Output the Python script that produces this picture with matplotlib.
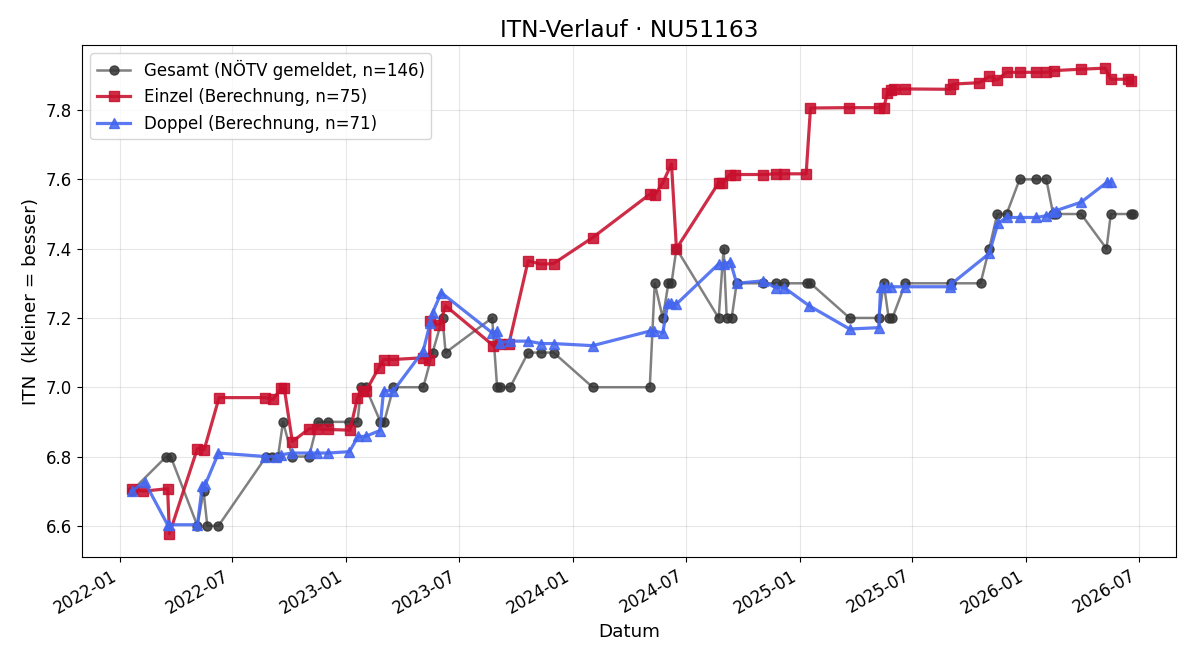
import matplotlib
matplotlib.use("Agg")
import matplotlib.pyplot as plt
import matplotlib.dates as mdates
import pandas as pd

title = "ITN-Verlauf · NU51163"

gesamt_dates = [
    "2022-01-20", "2022-03-17", "2022-03-24", "2022-05-06", "2022-05-16", "2022-05-22",
    "2022-06-09", "2022-08-25", "2022-09-04", "2022-09-13", "2022-09-21", "2022-10-06",
    "2022-11-02", "2022-11-16", "2022-12-03", "2023-01-06", "2023-01-19", "2023-01-25",
    "2023-02-01", "2023-02-25", "2023-03-03", "2023-03-18", "2023-05-05", "2023-05-20",
    "2023-06-05", "2023-06-10", "2023-08-24", "2023-09-01", "2023-09-06", "2023-09-22",
    "2023-10-21", "2023-11-11", "2023-12-01", "2024-02-02", "2024-05-04", "2024-05-12",
    "2024-05-25", "2024-06-03", "2024-06-08", "2024-06-16", "2024-08-23", "2024-08-31",
    "2024-09-05", "2024-09-13", "2024-09-21", "2024-11-02", "2024-11-23", "2024-12-07",
    "2025-01-13", "2025-01-18", "2025-03-22", "2025-05-08", "2025-05-16", "2025-05-24",
    "2025-05-30", "2025-06-20", "2025-09-01", "2025-10-19", "2025-11-02", "2025-11-15",
    "2025-11-30", "2025-12-21", "2026-01-17", "2026-02-02", "2026-02-13", "2026-02-18",
    "2026-03-30", "2026-05-10", "2026-05-17", "2026-06-19", "2026-06-22",
]
gesamt_values = [
    6.7, 6.8, 6.8, 6.6, 6.7, 6.6,
    6.6, 6.8, 6.8, 6.8, 6.9, 6.8,
    6.8, 6.9, 6.9, 6.9, 6.9, 7.0,
    7.0, 6.9, 6.9, 7.0, 7.0, 7.1,
    7.2, 7.1, 7.2, 7.0, 7.0, 7.0,
    7.1, 7.1, 7.1, 7.0, 7.0, 7.3,
    7.2, 7.3, 7.3, 7.4, 7.2, 7.4,
    7.2, 7.2, 7.3, 7.3, 7.3, 7.3,
    7.3, 7.3, 7.2, 7.2, 7.3, 7.2,
    7.2, 7.3, 7.3, 7.3, 7.4, 7.5,
    7.5, 7.6, 7.6, 7.6, 7.5, 7.5,
    7.5, 7.4, 7.5, 7.5, 7.5,
]

einzel_dates = [
    "2022-01-20", "2022-02-08", "2022-03-19", "2022-03-22", "2022-05-06", "2022-05-17",
    "2022-06-10", "2022-08-23", "2022-09-05", "2022-09-18", "2022-09-23", "2022-10-06",
    "2022-11-02", "2022-11-15", "2022-12-03", "2023-01-07", "2023-01-19", "2023-01-28",
    "2023-02-02", "2023-02-22", "2023-03-02", "2023-03-17", "2023-05-05", "2023-05-15",
    "2023-05-16", "2023-05-31", "2023-06-10", "2023-08-26", "2023-09-06", "2023-09-20",
    "2023-10-21", "2023-11-11", "2023-12-01", "2024-02-02", "2024-05-04", "2024-05-12",
    "2024-05-25", "2024-06-08", "2024-06-16", "2024-08-23", "2024-08-29", "2024-09-10",
    "2024-09-18", "2024-11-02", "2024-11-23", "2024-12-07", "2025-01-11", "2025-01-18",
    "2025-03-21", "2025-05-09", "2025-05-16", "2025-05-22", "2025-05-27", "2025-06-01",
    "2025-06-20", "2025-08-31", "2025-09-04", "2025-10-17", "2025-11-02", "2025-11-15",
    "2025-11-30", "2025-12-21", "2026-01-17", "2026-02-02", "2026-02-15", "2026-03-30",
    "2026-05-08", "2026-05-17", "2026-06-14", "2026-06-19",
]
einzel_values = [
    6.705, 6.700, 6.707, 6.577, 6.823, 6.820,
    6.970, 6.970, 6.965, 6.997, 6.997, 6.843,
    6.880, 6.880, 6.878, 6.876, 6.970, 6.990,
    6.990, 7.055, 7.080, 7.080, 7.085, 7.080,
    7.190, 7.180, 7.235, 7.120, 7.125, 7.125,
    7.365, 7.355, 7.357, 7.432, 7.557, 7.555,
    7.590, 7.645, 7.400, 7.590, 7.590, 7.614,
    7.614, 7.614, 7.616, 7.616, 7.616, 7.806,
    7.807, 7.807, 7.807, 7.849, 7.858, 7.860,
    7.861, 7.860, 7.875, 7.879, 7.897, 7.887,
    7.909, 7.909, 7.909, 7.909, 7.914, 7.918,
    7.921, 7.889, 7.889, 7.885,
]

doppel_dates = [
    "2022-01-20", "2022-02-10", "2022-03-19", "2022-03-22", "2022-05-06", "2022-05-14",
    "2022-05-19", "2022-06-09", "2022-08-23", "2022-09-10", "2022-09-17", "2022-10-06",
    "2022-11-03", "2022-11-15", "2022-12-03", "2023-01-06", "2023-01-20", "2023-02-01",
    "2023-02-24", "2023-03-02", "2023-03-18", "2023-05-05", "2023-05-16", "2023-05-20",
    "2023-06-03", "2023-08-24", "2023-09-01", "2023-09-06", "2023-09-21", "2023-10-21",
    "2023-11-11", "2023-12-01", "2024-02-02", "2024-05-04", "2024-05-11", "2024-05-25",
    "2024-06-02", "2024-06-08", "2024-06-16", "2024-08-23", "2024-08-31", "2024-09-11",
    "2024-09-21", "2024-11-02", "2024-11-23", "2024-12-07", "2025-01-16", "2025-03-22",
    "2025-05-08", "2025-05-11", "2025-05-19", "2025-05-27", "2025-06-20", "2025-08-31",
    "2025-09-02", "2025-11-02", "2025-11-16", "2025-11-30", "2025-12-21", "2026-01-17",
    "2026-02-02", "2026-02-13", "2026-02-18", "2026-03-30", "2026-05-11", "2026-05-17",
]
doppel_values = [
    6.700, 6.727, 6.603, 6.603, 6.603, 6.716,
    6.720, 6.810, 6.800, 6.800, 6.805, 6.810,
    6.810, 6.810, 6.810, 6.814, 6.858, 6.858,
    6.875, 6.990, 6.990, 7.105, 7.185, 7.215,
    7.273, 7.157, 7.162, 7.128, 7.133, 7.133,
    7.126, 7.126, 7.120, 7.162, 7.162, 7.157,
    7.243, 7.243, 7.240, 7.356, 7.356, 7.362,
    7.300, 7.307, 7.287, 7.287, 7.235, 7.168,
    7.172, 7.290, 7.290, 7.290, 7.290, 7.290,
    7.298, 7.386, 7.473, 7.490, 7.490, 7.490,
    7.495, 7.505, 7.510, 7.534, 7.592, 7.592,
]

labels = [
    "Gesamt (NÖTV gemeldet, n=146)",
    "Einzel (Berechnung, n=75)",
    "Doppel (Berechnung, n=71)",
]

fig, ax = plt.subplots(figsize=(12, 6.6), dpi=100)

ax.plot(pd.to_datetime(gesamt_dates), gesamt_values,
        color=(0.2, 0.2, 0.2, 0.62), lw=1.8, marker="o", ms=6.5,
        mfc=(0.2, 0.2, 0.2, 0.85), mec=(0.2, 0.2, 0.2, 0.85),
        label=labels[0], zorder=2)
ax.plot(pd.to_datetime(einzel_dates), einzel_values,
        color="#c8102e", alpha=0.88, lw=2.3, marker="s", ms=7.5,
        label=labels[1], zorder=3)
ax.plot(pd.to_datetime(doppel_dates), doppel_values,
        color="#4466ee", alpha=0.88, lw=2.3, marker="^", ms=7.5,
        label=labels[2], zorder=4)

ax.set_xlim(pd.Timestamp("2021-11-01"), pd.Timestamp("2026-08-30"))
ax.set_title(title, fontsize=16.8)
ax.set_xlabel("Datum", fontsize=13.2)
ax.set_ylabel("ITN  (kleiner = besser)", fontsize=13.2)
ax.grid(True, alpha=0.3)
ax.xaxis.set_major_locator(mdates.MonthLocator(bymonth=[1, 7]))
ax.xaxis.set_major_formatter(mdates.DateFormatter("%Y-%m"))
ax.tick_params(labelsize=12)
ax.legend(loc="upper left", fontsize=12)
fig.autofmt_xdate(rotation=30)
fig.subplots_adjust(left=0.0683, right=0.98, top=0.932, bottom=0.156)
fig.savefig("out.png", dpi=100)
